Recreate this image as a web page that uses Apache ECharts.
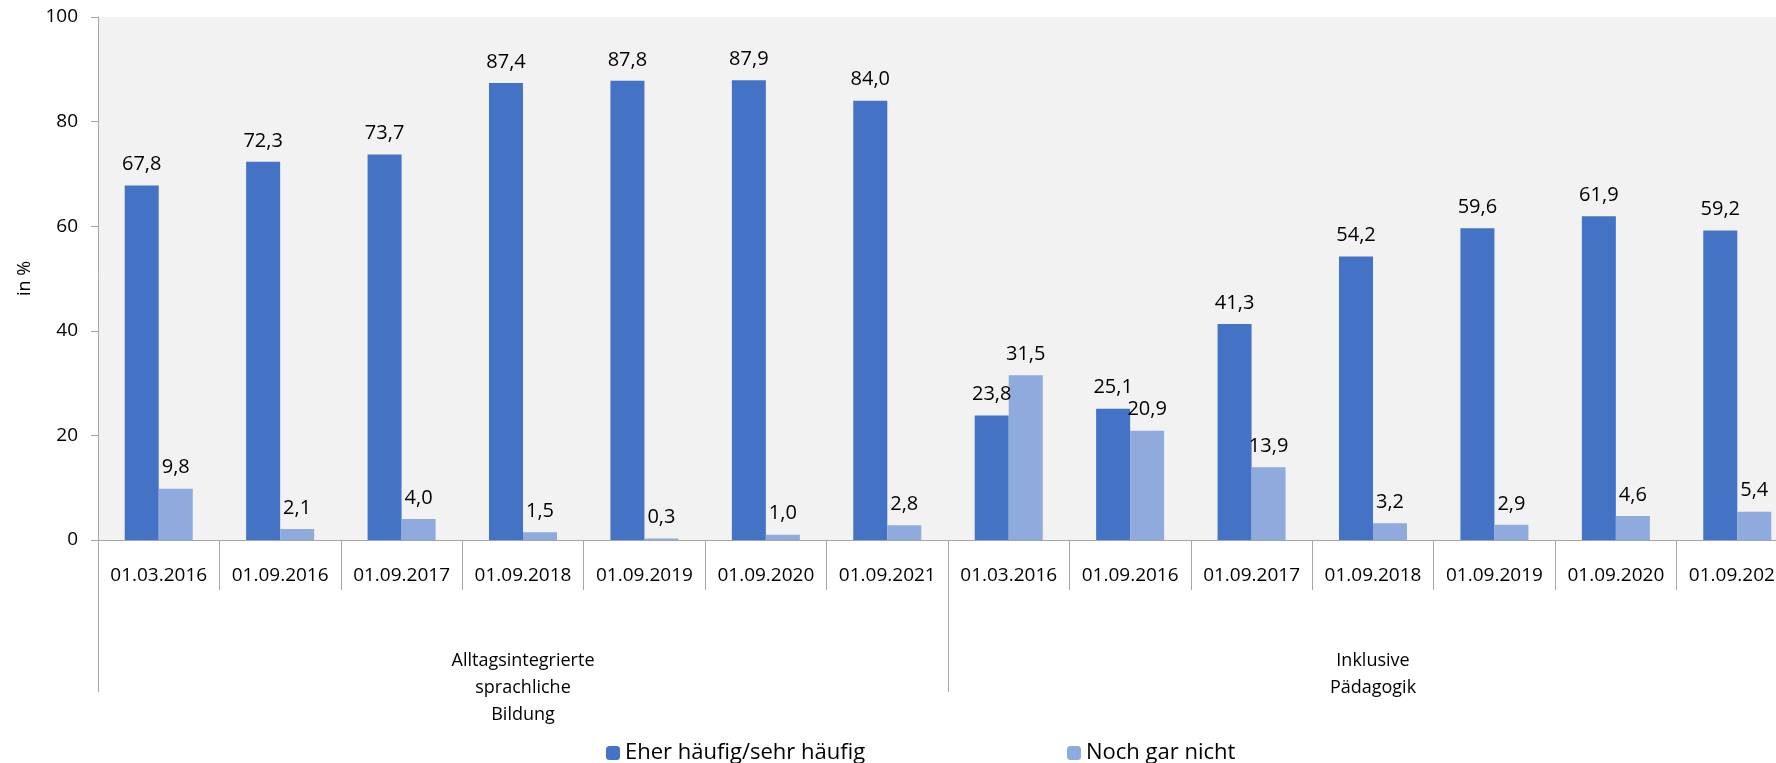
<!DOCTYPE html>
<html>
<head>
<meta charset="utf-8">
<script src="https://cdn.jsdelivr.net/npm/echarts@6/dist/echarts.min.js"></script>
<style>
  html, body { margin: 0; padding: 0; background: #fff; }
  #chart { width: 1776px; height: 763px; }
</style>
</head>
<body>
<div id="chart"></div>
<script>
var dates = ['01.03.2016', '01.09.2016', '01.09.2017', '01.09.2018', '01.09.2019', '01.09.2020', '01.09.2021',
             '01.03.2016', '01.09.2016', '01.09.2017', '01.09.2018', '01.09.2019', '01.09.2020', '01.09.2021'];
var groups = ['Alltagsintegrierte\nsprachliche\nBildung', 'Inklusive\nPädagogik'];
var haeufig = [67.8, 72.3, 73.7, 87.4, 87.8, 87.9, 84.0, 23.8, 25.1, 41.3, 54.2, 59.6, 61.9, 59.2];
var garNicht = [9.8, 2.1, 4.0, 1.5, 0.3, 1.0, 2.8, 31.5, 20.9, 13.9, 3.2, 2.9, 4.6, 5.4];
var yTicks = [0, 20, 40, 60, 80, 100];

var font = '"Open Sans", sans-serif';
var grey = '#a6a6a6';

function fmt(p) {
  return p.value.toFixed(1).replace('.', ',');
}

var chart = echarts.init(document.getElementById('chart'));
chart.setOption({
  animation: false,
  textStyle: { fontFamily: font, color: '#000' },
  // plot runs past the right edge, like the cut-off original
  grid: {
    left: 98, top: 17, bottom: 223, width: 1700,
    outerBoundsMode: 'none',
    show: true, backgroundColor: '#f2f2f2', borderWidth: 0
  },
  legend: [
    { left: 601, top: 737, itemWidth: 14, itemHeight: 14, itemGap: 4,
      textStyle: { fontFamily: font, fontSize: 22, color: '#000' },
      data: ['Eher häufig/sehr häufig'] },
    { left: 1062, top: 737, itemWidth: 14, itemHeight: 14, itemGap: 4,
      textStyle: { fontFamily: font, fontSize: 22, color: '#000' },
      data: ['Noch gar nicht'] }
  ],
  xAxis: [
    {
      type: 'category', data: dates, position: 'bottom',
      axisLine: { show: true, lineStyle: { color: grey } },
      axisTick: { show: true, length: 50, interval: 0, lineStyle: { color: grey } },
      axisLabel: { interval: 0, margin: 26, fontSize: 19, color: '#000', fontFamily: font }
    },
    {
      type: 'category', data: groups, position: 'bottom',
      axisLine: { show: false },
      axisTick: { show: true, length: 152, lineStyle: { color: grey } },
      axisLabel: { margin: 107, fontSize: 18, lineHeight: 27, color: '#000', fontFamily: font }
    }
  ],
  yAxis: {
    type: 'value', min: yTicks[0], max: yTicks[yTicks.length - 1], interval: 20,
    name: 'in %', nameLocation: 'middle', nameGap: 64, nameRotate: 90,
    nameTextStyle: { fontSize: 18, color: '#000', fontFamily: font },
    axisLine: { show: true, lineStyle: { color: grey } },
    axisTick: { show: true, length: 7, lineStyle: { color: grey } },
    splitLine: { show: false },
    axisLabel: { margin: 20, fontSize: 19, color: '#000', fontFamily: font }
  },
  series: [
    {
      name: 'Eher häufig/sehr häufig', type: 'bar', data: haeufig,
      barWidth: 34, barGap: '0%',
      itemStyle: { color: '#4472c4' },
      label: { show: true, position: 'top', distance: 11, formatter: fmt,
               fontSize: 20, color: '#000', fontFamily: font }
    },
    {
      name: 'Noch gar nicht', type: 'bar', data: garNicht,
      barWidth: 34,
      itemStyle: { color: '#8faadc' },
      label: { show: true, position: 'top', distance: 11, formatter: fmt,
               fontSize: 20, color: '#000', fontFamily: font }
    }
  ]
});
window.addEventListener('resize', function () { chart.resize(); });
</script>
</body>
</html>
